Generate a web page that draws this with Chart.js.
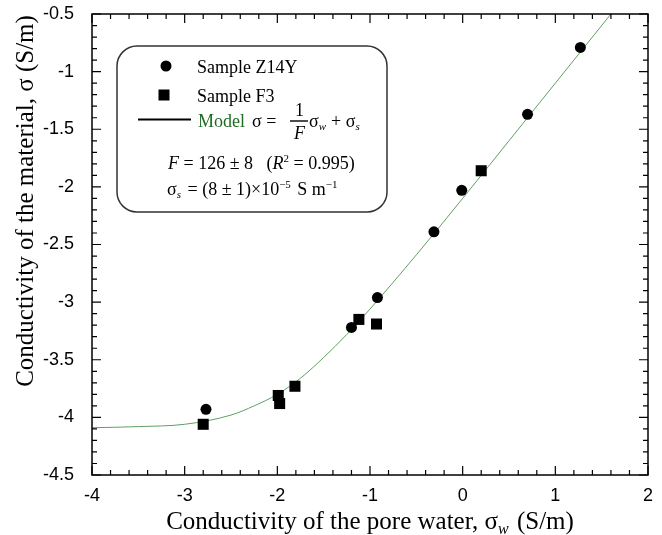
<!DOCTYPE html>
<html>
<head>
<meta charset="utf-8">
<script src="https://cdn.jsdelivr.net/npm/chart.js@4.4.1/dist/chart.umd.min.js"></script>
<style>
  html, body { margin: 0; padding: 0; background: #fff; }
  #wrap { width: 662px; height: 535px; }
</style>
</head>
<body>
<div id="wrap"><canvas id="grafico" width="662" height="535"></canvas></div>
<script>
// Datos (log10 de la conductividad)
const z14yX = [-2.77, -1.20, -0.92, -0.31, -0.01, 0.70, 1.27];
const z14yY = [-3.93, -3.22, -2.96, -2.39, -2.03, -1.37, -0.79];

const f3X = [-2.80, -1.99, -1.975, -1.81, -1.12, -0.93, 0.20];
const f3Y = [-4.06, -3.81, -3.88, -3.73, -3.15, -3.19, -1.86];

// Curva del modelo, puntos leídos a lo largo de la línea verde
const modelX = [-4, -3.5, -3, -2.5, -2.25, -2, -1.75, -1.5, -1.25, -1, -0.5, 0, 0.5, 1, 1.6];
const modelY = [-4.09, -4.08, -4.06, -3.98, -3.90, -3.80, -3.66, -3.48, -3.28, -3.06, -2.59, -2.10, -1.60, -1.10, -0.50];

const xTicks = [-4, -3, -2, -1, 0, 1, 2];
const xTickLabels = ["-4", "-3", "-2", "-1", "0", "1", "2"];
const yTicks = [-4.5, -4, -3.5, -3, -2.5, -2, -1.5, -1, -0.5];
const yTickLabels = ["-4.5", "-4", "-3.5", "-3", "-2.5", "-2", "-1.5", "-1", "-0.5"];

const SERIF = '"Liberation Serif", "Times New Roman", serif';
const SANS = '"Liberation Sans", Arial, sans-serif';
const GREEN_LINE = "#5f9f62";
const GREEN_TEXT = "#1f6b22";

const toPoints = (xs, ys) => xs.map((x, i) => ({ x, y: ys[i] }));

// Marco con marcas hacia adentro en los cuatro lados
const frameTicks = {
  id: "frameTicks",
  afterDraw(chart) {
    const { ctx, chartArea: a, scales: { x, y } } = chart;
    ctx.save();
    ctx.strokeStyle = "#000";
    ctx.lineWidth = 1.5;
    ctx.strokeRect(a.left, a.top, a.right - a.left, a.bottom - a.top);
    ctx.lineWidth = 1.2;
    ctx.beginPath();
    for (let i = 0; i <= 30; i++) {
      const px = x.getPixelForValue(-4 + i * 0.2);
      const len = i % 5 === 0 ? 9 : 5;
      ctx.moveTo(px, a.bottom); ctx.lineTo(px, a.bottom - len);
      ctx.moveTo(px, a.top); ctx.lineTo(px, a.top + len);
    }
    for (let i = 0; i <= 40; i++) {
      const py = y.getPixelForValue(-4.5 + i * 0.1);
      const len = i % 5 === 0 ? 9 : 5;
      ctx.moveTo(a.left, py); ctx.lineTo(a.left + len, py);
      ctx.moveTo(a.right, py); ctx.lineTo(a.right - len, py);
    }
    ctx.stroke();
    ctx.restore();
  }
};

// Escribe trozos de texto seguidos (cursiva, subíndices, superíndices)
function drawRuns(ctx, x, y, runs) {
  let cx = x;
  runs.forEach(r => {
    const size = r.size || 18;
    ctx.font = `${r.italic ? "italic " : ""}${size}px ${SERIF}`;
    ctx.fillStyle = r.color || "#000";
    ctx.fillText(r.t, cx, y + (r.dy || 0));
    cx += ctx.measureText(r.t).width + (r.gap || 0);
  });
  return cx;
}

function runsWidth(ctx, runs) {
  let w = 0;
  runs.forEach(r => {
    ctx.font = `${r.italic ? "italic " : ""}${r.size || 18}px ${SERIF}`;
    w += ctx.measureText(r.t).width + (r.gap || 0);
  });
  return w;
}

// Recuadro de leyenda con la ecuación del modelo
const legendBox = {
  id: "legendBox",
  afterDraw(chart) {
    const { ctx, chartArea: a } = chart;
    const L = a.left, T = a.top;
    ctx.save();
    ctx.strokeStyle = "#333";
    ctx.lineWidth = 1.5;
    ctx.beginPath();
    ctx.roundRect(L + 25, T + 32, 270, 166, 20);
    ctx.stroke();

    ctx.fillStyle = "#000";
    ctx.beginPath();
    ctx.arc(L + 74, T + 52, 5.5, 0, Math.PI * 2);
    ctx.fill();
    ctx.fillRect(L + 66.5, T + 75.5, 11, 11);
    ctx.lineWidth = 2;
    ctx.strokeStyle = "#000";
    ctx.beginPath();
    ctx.moveTo(L + 46, T + 105.5);
    ctx.lineTo(L + 99, T + 105.5);
    ctx.stroke();

    ctx.textBaseline = "alphabetic";
    ctx.textAlign = "left";
    drawRuns(ctx, L + 105, T + 59, [{ t: "Sample Z14Y" }]);
    drawRuns(ctx, L + 105, T + 88, [{ t: "Sample F3" }]);
    drawRuns(ctx, L + 106, T + 113, [{ t: "Model", color: GREEN_TEXT }]);

    // σ = (1/F) σw + σs
    drawRuns(ctx, L + 160, T + 113, [{ t: "σ =" }]);
    ctx.lineWidth = 1.4;
    ctx.strokeStyle = "#000";
    ctx.beginPath();
    ctx.moveTo(L + 198, T + 107);
    ctx.lineTo(L + 216, T + 107);
    ctx.stroke();
    ctx.textAlign = "center";
    drawRuns(ctx, L + 207.5, T + 102, [{ t: "1" }]);
    drawRuns(ctx, L + 207.5, T + 125, [{ t: "F", italic: true }]);
    ctx.textAlign = "left";
    drawRuns(ctx, L + 217, T + 113, [
      { t: "σ" },
      { t: "w", italic: true, size: 11, dy: 3, gap: 5 },
      { t: "+ σ" },
      { t: "s", italic: true, size: 11, dy: 3 }
    ]);

    drawRuns(ctx, L + 76, T + 155, [
      { t: "F", italic: true },
      { t: " = 126 ± 8   (" },
      { t: "R", italic: true },
      { t: "2", size: 11, dy: -7 },
      { t: " = 0.995)" }
    ]);
    drawRuns(ctx, L + 75, T + 181, [
      { t: "σ" },
      { t: "s", italic: true, size: 11, dy: 3, gap: 2 },
      { t: " = (8 ± 1)×10" },
      { t: "−5", size: 11, dy: -7, gap: 2 },
      { t: " S m" },
      { t: "−1", size: 11, dy: -7 }
    ]);
    ctx.restore();
  }
};

// Títulos de los ejes (el de x lleva subíndice)
const axisTitles = {
  id: "axisTitles",
  afterDraw(chart) {
    const { ctx, chartArea: a } = chart;
    ctx.save();
    ctx.textBaseline = "alphabetic";
    ctx.textAlign = "left";
    const xRuns = [
      { t: "Conductivity of the pore water, σ", size: 25 },
      { t: "w", italic: true, size: 16, dy: 5, gap: 2 },
      { t: " (S/m)", size: 25 }
    ];
    const w = runsWidth(ctx, xRuns);
    drawRuns(ctx, (a.left + a.right) / 2 - w / 2, 529, xRuns);

    const yRuns = [{ t: "Conductivity of the material, σ (S/m)", size: 25 }];
    const wy = runsWidth(ctx, yRuns);
    ctx.translate(33, 201);
    ctx.rotate(-Math.PI / 2);
    drawRuns(ctx, -wy / 2, 0, yRuns);
    ctx.restore();
  }
};

const ctx = document.getElementById("grafico").getContext("2d");

new Chart(ctx, {
  type: "scatter",
  data: {
    datasets: [
      {
        label: "Model",
        data: toPoints(modelX, modelY),
        showLine: true,
        borderColor: GREEN_LINE,
        borderWidth: 1,
        pointRadius: 0,
        cubicInterpolationMode: "monotone",
        order: 3
      },
      {
        label: "Sample Z14Y",
        data: toPoints(z14yX, z14yY),
        pointStyle: "circle",
        pointRadius: 5.5,
        backgroundColor: "#000",
        borderColor: "#000",
        borderWidth: 0,
        order: 1
      },
      {
        label: "Sample F3",
        data: toPoints(f3X, f3Y),
        pointStyle: "rect",
        pointRadius: 7.8,
        backgroundColor: "#000",
        borderColor: "#000",
        borderWidth: 0,
        order: 2
      }
    ]
  },
  options: {
    responsive: false,
    animation: false,
    layout: { padding: { left: 0, right: 14, top: 14, bottom: 0 } },
    plugins: {
      legend: { display: false },
      tooltip: { enabled: false }
    },
    scales: {
      x: {
        type: "linear",
        min: -4,
        max: 2,
        afterBuildTicks: s => { s.ticks = xTicks.map(v => ({ value: v })); },
        afterFit: s => { s.height = 60; s.paddingLeft = 0; s.paddingRight = 0; },
        grid: { display: false, drawTicks: false },
        border: { display: false },
        ticks: {
          color: "#000",
          font: { family: SANS, size: 18 },
          padding: 10,
          maxRotation: 0,
          callback: (v, i) => xTickLabels[i]
        },
        title: { display: false }
      },
      y: {
        type: "linear",
        min: -4.5,
        max: -0.5,
        afterBuildTicks: s => { s.ticks = yTicks.map(v => ({ value: v })); },
        afterFit: s => { s.width = 92; s.paddingTop = 0; s.paddingBottom = 0; },
        grid: { display: false, drawTicks: false },
        border: { display: false },
        ticks: {
          color: "#000",
          font: { family: SANS, size: 18 },
          padding: 18,
          callback: (v, i) => yTickLabels[i]
        },
        title: { display: false }
      }
    }
  },
  plugins: [frameTicks, legendBox, axisTitles]
});
</script>
</body>
</html>
